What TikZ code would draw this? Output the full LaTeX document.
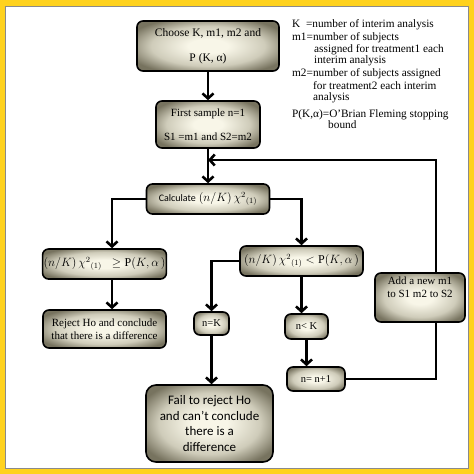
\documentclass[tikz,border=0pt]{standalone}
\usepackage{fontspec}
\setmainfont{Liberation Serif}
\newfontfamily\calib{Carlito}
\usetikzlibrary{arrows.meta}
\definecolor{frameyellow}{HTML}{FFD21E}
\definecolor{framegray}{HTML}{8A8A8A}
\definecolor{boxin}{HTML}{F8F6E8}
\definecolor{boxmid}{HTML}{CFCCBA}
\definecolor{boxout}{HTML}{77735F}
\pgfdeclareradialshading{boxshade}{\pgfpoint{0bp}{0bp}}{%
  color(0bp)=(boxin); color(7bp)=(boxin); color(20bp)=(boxmid);
  color(30bp)=(boxout); color(50bp)=(boxout)}
\begin{document}
\begin{tikzpicture}[x=1pt,y=-1pt,
  box/.style={draw=black, line width=1.6pt, rounded corners=6pt,
    shading=boxshade, align=center, inner sep=1pt},
  arr/.style={line width=2.6pt, -{Straight Barb[length=5pt,width=11pt,line width=2.6pt]}},
  ln/.style={line width=2.6pt},
  leg/.style={anchor=base west, inner sep=0pt, font=\fontsize{11.3}{13}\selectfont}]
\useasboundingbox (0,0) rectangle (474,474);
\fill[frameyellow] (0,0) rectangle (474,474);
\filldraw[fill=white, draw=framegray, line width=1pt] (5,6) rectangle (468,468);

% boxes
\node[box, minimum width=142pt, minimum height=50pt, font=\fontsize{11.5}{13}\selectfont]
  (choose) at (208,46) {Choose K, m1, m2 and\\[12pt]P (K, α)};
\node[box, minimum width=104pt, minimum height=47pt, font=\fontsize{11}{12.5}\selectfont]
  (first) at (208,124.5) {First sample n=1\\[11pt]S1 =m1 and S2=m2};
\node[box, minimum width=123pt, minimum height=30pt, font=\fontsize{12}{14}\selectfont]
  (calc) at (208,199) {{\calib\fontsize{10}{12}\selectfont Calculate} $(n/K)\,\chi^{2}{}_{(1)}$};
\node[box, minimum width=123pt, minimum height=30pt, font=\fontsize{12}{14}\selectfont]
  (ge) at (104.5,264) {$(n/K)\,\chi^{2}{}_{(1)}\;\;\geq \mathrm{P}(K,\alpha\,)$};
\node[box, minimum width=123pt, minimum height=30pt, font=\fontsize{12}{14}\selectfont]
  (lt) at (301.5,261) {$(n/K)\,\chi^{2}{}_{(1)} < \mathrm{P}(K,\alpha\,)$};
\node[box, minimum width=123pt, minimum height=38pt, font=\fontsize{11}{12.5}\selectfont]
  (reject) at (104.5,329) {Reject Ho and conclude\\that there is a difference};
\node[box, minimum width=35pt, minimum height=23pt, font=\fontsize{10.5}{12}\selectfont]
  (nk) at (211.5,323.5) {n=K};
\node[box, minimum width=43pt, minimum height=25pt, font=\fontsize{10.5}{12}\selectfont]
  (nlt) at (306.5,326.5) {n< K};
\node[box, minimum width=58pt, minimum height=24pt, font=\fontsize{10.5}{12}\selectfont]
  (np1) at (316,379) {n= n+1};
\node[box, minimum width=90pt, minimum height=49pt, font=\fontsize{11}{13}\selectfont]
  (add) at (420,297.5) {\begin{minipage}[c][42pt][t]{86pt}\centering Add a new m1\\to S1 m2 to S2\end{minipage}};
\node[box, rounded corners=10pt, minimum width=127pt, minimum height=77pt,
  font=\calib\fontsize{13}{15.5}\selectfont]
  (fail) at (209.5,423.5) {Fail to reject Ho\\and can’t conclude\\there is a\\difference};

% legend
\node[leg] (l1) at (292,27) {K\ \ =number of interim analysis};
\node[leg] (l2) at (292,40) {m1=number of subjects};
\node[leg] (l3) at (314,52.5) {assigned for treatment1 each};
\node[leg] (l4) at (314,63) {interim analysis};
\node[leg] (l5) at (292,76.5) {m2=number of subjects assigned};
\node[leg] (l6) at (313,89.5) {for treatment2 each interim};
\node[leg] (l7) at (313,100.5) {analysis};
\node[leg] (l8) at (292,117) {P(K,α)=O’Brian Fleming stopping};
\node[leg] (l9) at (328,128.5) {bound};

% helper coordinates
\coordinate (ax) at (436,0);
\coordinate (lx) at (112,0);
\coordinate (join) at (208,160);

% connectors
\draw[arr] (choose) -- (first);
\draw[arr] (first) -- (calc);
\draw[ln] (np1.east) -| (add.south -| ax);
\draw[arr] (add.north -| ax) |- (join);
\draw[arr] (calc.west) -| (ge.north -| lx);
\draw[arr] (calc.east) -| (lt.north);
\draw[arr] (ge.south -| lx) -- (reject.north -| lx);
\draw[arr] (lt.west) -| (nk.north);
\draw[arr] (lt.south) -- (lt.south |- nlt.north);
\draw[arr] (nk.south) -- (nk.south |- fail.north);
\draw[arr] (nlt.south) -- (nlt.south |- np1.north);
\end{tikzpicture}
\end{document}
